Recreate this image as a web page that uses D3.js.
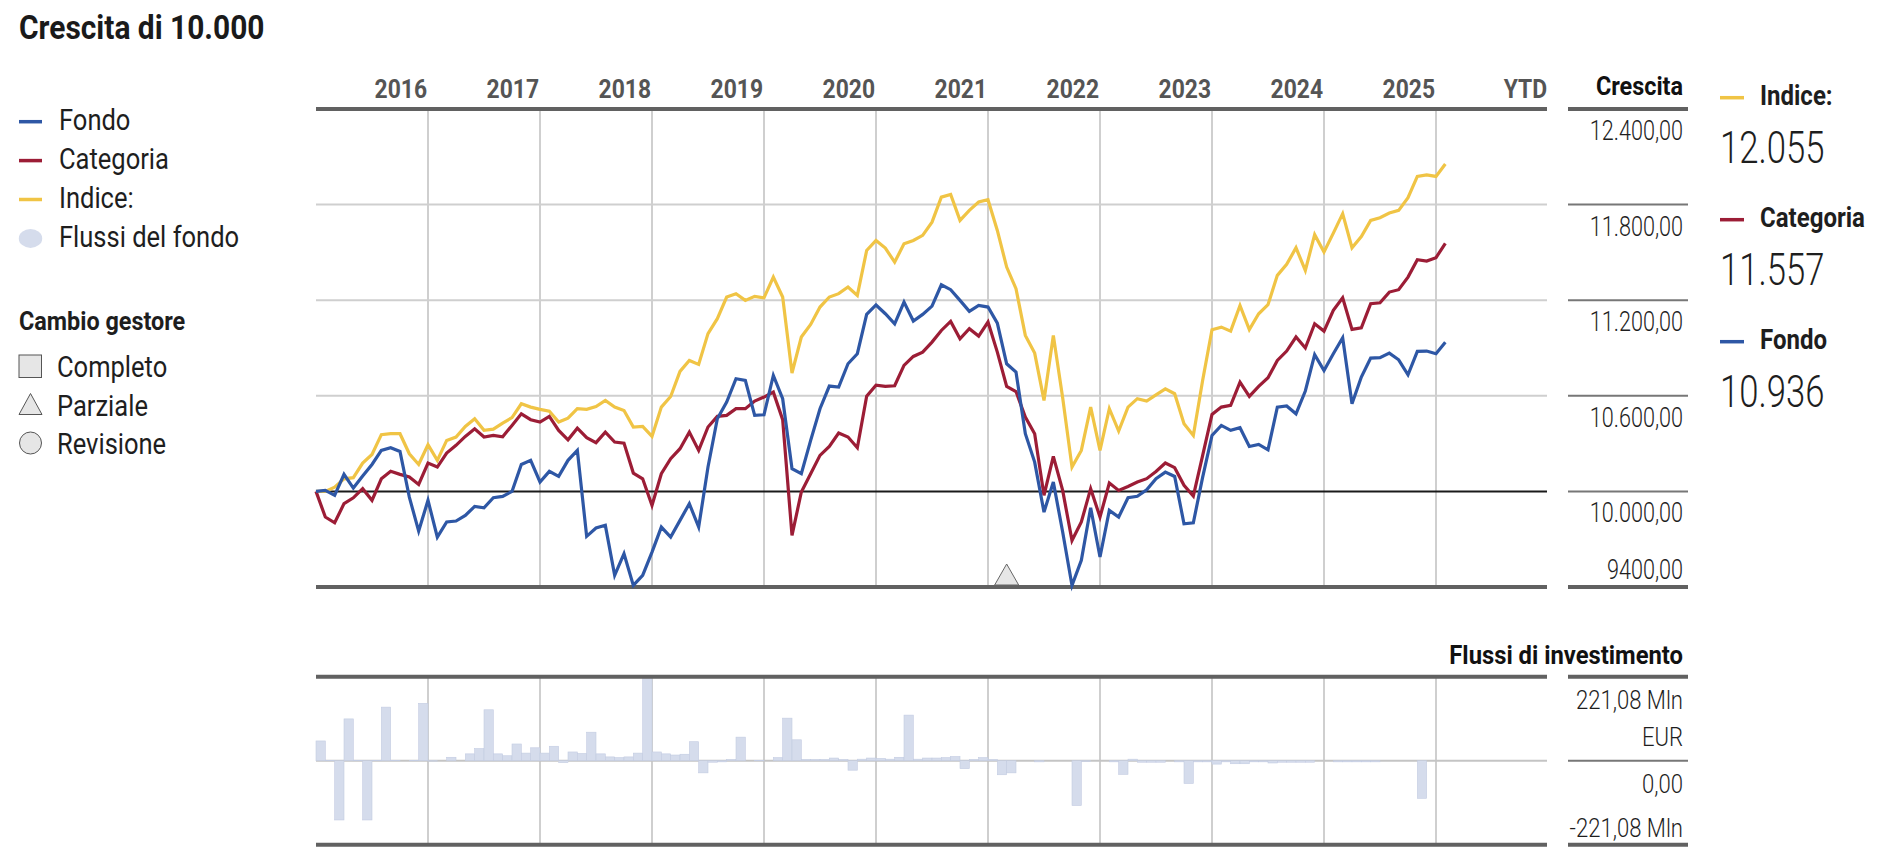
<!DOCTYPE html>
<html>
<head>
<meta charset="utf-8">
<script src="https://cdn.jsdelivr.net/npm/d3@7"></script>
<style>
  html, body { margin: 0; padding: 0; background: #fff; }
  svg { display: block; font-family: Roboto, "Noto Sans", "Liberation Sans", sans-serif; }
</style>
</head>
<body>
<svg id="chart" width="1904" height="866"></svg>
<script>
// ---------------- DATA ----------------
const yearLabels = ["2016","2017","2018","2019","2020","2021","2022","2023","2024","2025","YTD"];
const growthTickValues = [12400, 11800, 11200, 10600, 10000, 9400];
const growthTickLabels = ["12.400,00","11.800,00","11.200,00","10.600,00","10.000,00","9400,00"];
const flowTickLabels = ["221,08 Mln","EUR","0,00","-221,08 Mln"];
const flowMax = 221.08;

// monthly growth of 10.000 (index = month since start)
const fondo = [
10000,10006,9975,10107,10021,10096,10169,10257,10274,10251,9964,9751,9944,9713,9808,9814,9849,9906,9897,9960,9969,10000,10169,10195,10059,10126,10094,10195,10257,9718,9770,
9787,9473,9609,9410,9473,9619,9776,9713,9818,9923,9776,10153,10456,10561,10707,10697,10477,10481,10728,10582,10142,10111,10320,10519,10661,10655,10801,10864,11111,11170,
11115,11052,11188,11069,11111,11163,11297,11266,11199,11130,11167,11157,11056,10801,10749,10362,10184,9870,10059,9745,9410,9567,9897,9588,9881,9839,9960,9969,10010,10080,
10121,10094,9797,9803,10090,10351,10414,10383,10400,10282,10295,10261,10529,10536,10487,10630,10858,10759,10864,10964,10550,10718,10837,10839,10868,10826,10732,10879,10881,10864,10936
];
const categoria = [
10000,9839,9803,9923,9960,10017,9944,10079,10126,10107,10090,10044,10178,10153,10241,10289,10345,10393,10341,10351,10343,10414,10487,10450,10435,10471,10383,10324,10397,10337,10306,
10372,10310,10303,10115,10079,9912,10111,10205,10268,10372,10257,10404,10471,10477,10519,10519,10567,10592,10623,10450,9724,9996,10111,10226,10282,10366,10341,10274,10598,10667,
10659,10663,10791,10847,10874,10937,11010,11067,10958,11021,10975,11063,10874,10659,10627,10466,10362,9975,10220,10006,9692,9808,10017,9839,10052,10006,10031,10059,10080,10125,
10178,10149,10038,9971,10226,10483,10529,10540,10686,10596,10659,10713,10822,10881,10969,10900,11052,11006,11136,11215,11017,11027,11178,11184,11251,11266,11345,11454,11446,11467,11557
];
const indice = [
10000,10000,10027,10079,10086,10178,10232,10356,10362,10362,10236,10169,10293,10195,10320,10341,10408,10456,10383,10391,10429,10463,10550,10529,10515,10504,10435,10460,10519,10515,10532,
10571,10529,10508,10404,10408,10345,10529,10596,10753,10822,10797,10990,11084,11220,11241,11199,11224,11215,11345,11220,10743,10969,11048,11157,11220,11241,11283,11230,11512,11575,
11527,11439,11554,11575,11607,11690,11847,11864,11701,11764,11816,11831,11638,11408,11272,10979,10868,10571,10979,10588,10153,10257,10529,10257,10519,10379,10529,10582,10567,10606,
10644,10613,10425,10351,10697,11015,11031,11006,11167,11015,11115,11172,11356,11425,11529,11387,11611,11502,11621,11743,11529,11600,11701,11718,11747,11764,11843,11977,11987,11977,12055
];
// monthly fund flows, Mln EUR
const flussi = [
52,1,-156,110,1,-156,1,141,1,0,1,151,-1,0,9,0,18,32,134,18,13,44,20,34,20,38,-5,23,19,75,18,
10,8,10,20,219,23,18,15,17,50,-32,-4,-3,3,62,0,1,0,8,112,55,3,3,3,7,3,-25,4,7,6,
4,9,120,4,7,7,8,11,-21,3,8,3,-37,-32,0,0,-3,0,0,0,-118,-2,0,0,-3,-36,4,-4,-4,-4,
0,-3,-60,-3,-3,-9,-3,-8,-8,-3,-3,-6,-4,-4,-4,-4,0,0,-3,-3,-3,-3,-3,0,0,0,0,-99,0,0,0
];
const managerChanges = [{ month: 74, type: "Parziale" }];

const legendLeft = ["Fondo","Categoria","Indice:","Flussi del fondo"];
const legendManager = ["Completo","Parziale","Revisione"];
const legendRightNames = ["Indice:", "Categoria", "Fondo"];
const legendRightValues = ["12.055", "11.557", "10.936"];

// ---------------- STYLE ----------------
const C = { fondo: "#2e57a5", categoria: "#9c1d36", indice: "#f0c445", flow: "#d5dcec", flowStroke: "#c3cce2",
            grid: "#cfcfcf", axis: "#616161", base: "#1a1a1a", text: "#1e1e1e", year: "#555555" };
const svg = d3.select("#chart");

function txt(g, x, y, s, o) {
  return g.append("text")
    .attr("transform", `translate(${x},${y}) scale(${o.sx || 0.86},1)`)
    .attr("text-anchor", o.anchor || "start")
    .attr("font-size", o.size)
    .attr("font-weight", o.weight || 400)
    .attr("fill", o.fill || C.text)
    .text(s);
}

// ---------------- SCALES ----------------
const plotL = 316, plotR = 1548;
const x = d3.scaleLinear().domain([0, 132]).range([plotL, plotR]);
const y = d3.scaleLinear().domain([9400, 12400]).range([587, 109]);
const yf = d3.scaleLinear().domain([-flowMax, flowMax]).range([844.7, 676.7]);
const axR0 = 1568, axR1 = 1688, labR = 1683;

// ---------------- TITLE ----------------
txt(svg, 19, 39, "Crescita di 10.000", { size: 34, weight: 700, sx: 0.88, fill: "#1a1a1a" });

// ---------------- LEFT LEGEND ----------------
const lcol = [C.fondo, C.categoria, C.indice];
const lg = svg.append("g");
legendLeft.forEach((name, i) => {
  const cy = 121.7 + i * 38.9;
  if (i < 3) {
    lg.append("line").attr("x1", 19).attr("x2", 42).attr("y1", cy).attr("y2", cy)
      .attr("stroke", lcol[i]).attr("stroke-width", 3.5);
  } else {
    lg.append("ellipse").attr("cx", 30.5).attr("cy", cy).attr("rx", 11.7).attr("ry", 9.5).attr("fill", C.flow);
  }
  txt(lg, 59, cy + 8.5, name, { size: 29, sx: 0.88 });
});
txt(lg, 19, 330, "Cambio gestore", { size: 26, weight: 700, sx: 0.9 });
legendManager.forEach((name, i) => {
  const cy = 366 + i * 38.5;
  if (i === 0) lg.append("rect").attr("x", 19).attr("y", cy - 11).attr("width", 22.5).attr("height", 22.5)
      .attr("fill", "#e6e6e6").attr("stroke", "#555").attr("stroke-width", 1);
  if (i === 1) lg.append("path").attr("d", `M19,${cy+10}L30.5,${cy-11}L42,${cy+10}Z`)
      .attr("fill", "#e6e6e6").attr("stroke", "#555").attr("stroke-width", 1);
  if (i === 2) lg.append("circle").attr("cx", 30.5).attr("cy", cy).attr("r", 11)
      .attr("fill", "#e6e6e6").attr("stroke", "#555").attr("stroke-width", 1);
  txt(lg, 57, cy + 11, name, { size: 29, sx: 0.88 });
});

// ---------------- MAIN CHART ----------------
const main = svg.append("g");
yearLabels.forEach((lab, i) => {
  txt(main, x(12 * (i + 1)) - 1, 98, lab, { size: 26, weight: 700, sx: 0.88, anchor: "end", fill: C.year });
});
d3.range(1, 11).forEach(k => {
  main.append("line").attr("x1", x(12 * k)).attr("x2", x(12 * k)).attr("y1", 109).attr("y2", 587)
    .attr("stroke", C.grid).attr("stroke-width", 2);
});
growthTickValues.forEach((v, i) => {
  const yy = y(v);
  const edge = (i === 0 || i === growthTickValues.length - 1);
  let stroke = C.grid, w = 2;
  if (v === 10000) { stroke = C.base; w = 2; }
  if (edge) { stroke = C.axis; w = 4; }
  main.append("line").attr("x1", plotL).attr("x2", plotR - 1).attr("y1", yy).attr("y2", yy)
    .attr("stroke", stroke).attr("stroke-width", w);
  main.append("line").attr("x1", axR0).attr("x2", axR1).attr("y1", yy).attr("y2", yy)
    .attr("stroke", edge ? C.axis : "#777").attr("stroke-width", edge ? 4 : 2);
  const ly = (i === growthTickValues.length - 1) ? yy - 8 : yy + 31;
  txt(main, labR, ly, growthTickLabels[i], { size: 27, weight: 300, sx: 0.80, anchor: "end" });
});
txt(main, labR, 95, "Crescita", { size: 26, weight: 700, sx: 0.9, anchor: "end", fill: "#111" });

managerChanges.forEach(m => {
  const cx = x(m.month);
  main.append("path").attr("d", `M${cx-12},585L${cx},564L${cx+12},585Z`)
    .attr("fill", "#e6e6e6").attr("stroke", "#666").attr("stroke-width", 1);
});

const line = d3.line().x((d, i) => x(i)).y(d => y(d));
[[indice, C.indice], [categoria, C.categoria], [fondo, C.fondo]].forEach(([data, col]) => {
  main.append("path").datum(data).attr("d", line).attr("fill", "none")
    .attr("stroke", col).attr("stroke-width", 3.2).attr("stroke-linejoin", "miter");
});

// ---------------- RIGHT LEGEND ----------------
const rcol = [C.indice, C.categoria, C.fondo];
legendRightNames.forEach((n, i) => {
  const my = 97.7 + i * 122;
  svg.append("line").attr("x1", 1720).attr("x2", 1744).attr("y1", my).attr("y2", my)
    .attr("stroke", rcol[i]).attr("stroke-width", 3.5);
  txt(svg, 1760, my + 7.5, n, { size: 27, weight: 700, sx: 0.89 });
  txt(svg, 1720, my + 65.5, legendRightValues[i], { size: 45, weight: 300, sx: 0.77 });
});

// ---------------- FLOWS PANEL ----------------
const fl = svg.append("g");
txt(fl, labR, 664, "Flussi di investimento", { size: 26, weight: 700, sx: 0.915, anchor: "end", fill: "#111" });
d3.range(1, 11).forEach(k => {
  fl.append("line").attr("x1", x(12 * k)).attr("x2", x(12 * k)).attr("y1", 676.7).attr("y2", 844.7)
    .attr("stroke", C.grid).attr("stroke-width", 2);
});
fl.append("line").attr("x1", plotL).attr("x2", plotR - 1).attr("y1", yf(0)).attr("y2", yf(0))
  .attr("stroke", "#c4c4c4").attr("stroke-width", 2);
fl.selectAll("rect.bar").data(flussi).enter().append("rect")
  .attr("x", (d, i) => x(i)).attr("width", x(1) - x(0))
  .attr("y", d => d >= 0 ? yf(d) : yf(0)).attr("height", d => Math.abs(yf(d) - yf(0)))
  .attr("fill", C.flow).attr("stroke", C.flowStroke).attr("stroke-width", 0.6);
[yf(flowMax), yf(-flowMax)].forEach(yy => {
  fl.append("line").attr("x1", plotL).attr("x2", plotR - 1).attr("y1", yy).attr("y2", yy)
    .attr("stroke", C.axis).attr("stroke-width", 4);
});
[[yf(flowMax), 4, C.axis], [yf(0), 2, "#777"], [yf(-flowMax), 4, C.axis]].forEach(([yy, w, c]) => {
  fl.append("line").attr("x1", axR0).attr("x2", axR1).attr("y1", yy).attr("y2", yy)
    .attr("stroke", c).attr("stroke-width", w);
});
const flowLabY = [708.5, 746, 792.7, 836.7];
flowTickLabels.forEach((t, i) => {
  txt(fl, labR, flowLabY[i], t, { size: 26, weight: 300, sx: 0.85, anchor: "end" });
});
</script>
</body>
</html>
